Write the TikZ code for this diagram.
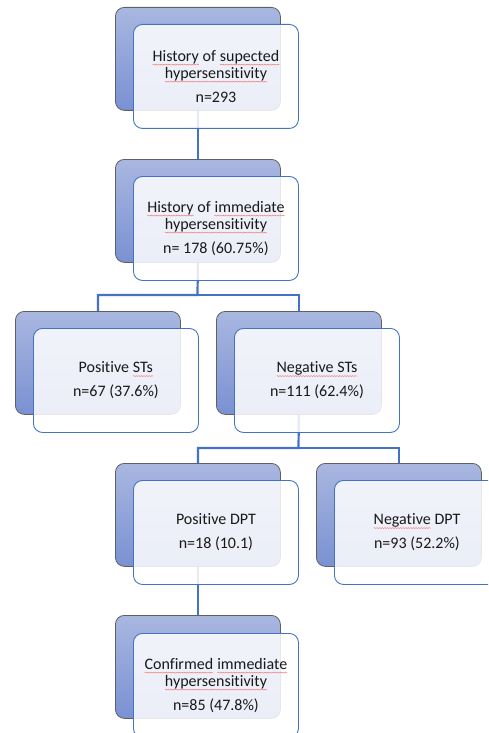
\documentclass[tikz,border=0pt]{standalone}
\usepackage{fontspec}
\setmainfont{Carlito}[Ligatures=NoCommon]
\usetikzlibrary{decorations.pathmorphing}
\pgfdeclarelayer{bg}
\pgfsetlayers{bg,main}
\definecolor{lineblue}{RGB}{68,114,196}
\definecolor{backtop}{RGB}{169,183,224}
\definecolor{backbot}{RGB}{122,145,210}
\definecolor{backedge}{RGB}{96,96,96}
\definecolor{txt}{RGB}{25,25,25}
\definecolor{spellred}{RGB}{238,120,120}
\tikzset{
  wordbox/.style={inner sep=0pt, outer sep=0pt, minimum width=0pt, minimum height=0pt, draw=none, fill=none, sharp corners, anchor=base, align=none, fill opacity=1, draw opacity=1},
  squig/.style={draw=spellred, fill=none, sharp corners, line width=0.45pt, draw opacity=1, decorate, decoration={snake, amplitude=0.5pt, segment length=2.6pt}}
}
\newcommand\sq[1]{\tikz[baseline=(w.base)]{\node[wordbox] (w) {#1};\draw[squig] ([yshift=-3.2pt]w.base west) -- ([yshift=-3.2pt]w.base east);}}
\begin{document}
\begin{tikzpicture}[x=1pt,y=-1pt,
  backbox/.style={rectangle, rounded corners=9pt, minimum width=165pt, minimum height=103pt, anchor=north west, draw=backedge, line width=0.8pt, top color=backtop, bottom color=backbot, inner sep=0pt},
  frontbox/.style={rectangle, rounded corners=9pt, minimum width=165pt, minimum height=104pt, anchor=north west, draw=lineblue, line width=0.9pt, fill=white, fill opacity=0.85, text opacity=1, text=txt, align=center, font=\fontsize{16}{17}\selectfont, inner sep=0pt},
  conn/.style={draw=lineblue, line width=2.2pt}]
\clip (0,0) rectangle (488,733);
% box 1
\node[backbox] (b1) at (115,7) {};
\node[frontbox] (f1) at (133,24) {\sq{History} of \sq{supected}\\\sq{hypersensitivity}\\[7pt]n=293};
% box 2
\node[backbox] (b2) at (115,159) {};
\node[frontbox] (f2) at (133,176) {\sq{History} of \sq{immediate}\\\sq{hypersensitivity}\\[7pt]n= 178 (60.75\%)};
% box 3
\node[backbox] (b3) at (15,311) {};
\node[frontbox] (f3) at (33,328) {Positive \sq{STs}\\[7pt]n=67 (37.6\%)};
% box 4
\node[backbox] (b4) at (216,311) {};
\node[frontbox] (f4) at (234,328) {\sq{Negative STs}\\[7pt]n=111 (62.4\%)};
% box 5
\node[backbox] (b5) at (115,463) {};
\node[frontbox] (f5) at (133,480) {Positive DPT\\[7pt]n=18 (10.1)};
% box 6
\node[backbox] (b6) at (316,463) {};
\node[frontbox] (f6) at (334,480) {\sq{Negative} DPT\\[7pt]n=93 (52.2\%)};
% box 7
\node[backbox] (b7) at (115,615) {};
\node[frontbox] (f7) at (133,633) {\sq{Confirmed} \sq{immediate}\\\sq{hypersensitivity}\\[7pt]n=85 (47.8\%)};
% connectors
\coordinate (j1) at (197.5,295);
\coordinate (j2) at (298.5,448);
\begin{pgfonlayer}{bg}
\fill[white] (0,0) rectangle (488,733);
\draw[conn] (b1.south) -- (b2.north);
\draw[conn] (b2.south) -- (j1) -| (b3.north);
\draw[conn] (j1) -| (b4.north);
\draw[conn] (b4.south) -- (j2) -| (b5.north);
\draw[conn] (j2) -| (b6.north);
\draw[conn] (b5.south) -- (b7.north);
\end{pgfonlayer}
\end{tikzpicture}
\end{document}
